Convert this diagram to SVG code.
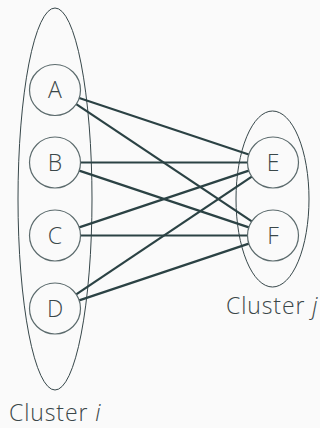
<svg xmlns="http://www.w3.org/2000/svg" width="320" height="428" viewBox="0 0 320 428">
  <style>
    .bg { fill: #fafafa; }
    .cluster { fill: none; stroke: #37474a; stroke-width: 1; }
    .node circle { fill: none; stroke: #5c6b6d; stroke-width: 1.2; }
    .node text { font-family: "Open Sans", "Noto Sans", sans-serif; font-weight: 300; font-size: 23px; fill: #3a4749; text-anchor: middle; }
    .label { font-family: "Open Sans", "Noto Sans", sans-serif; font-weight: 300; font-size: 23px; letter-spacing: 0.9px; fill: #3a4749; }
    .edges line { stroke: #2b4244; stroke-width: 2.2; stroke-linecap: butt; }
  </style>
  <rect class="bg" x="0" y="0" width="320" height="428"/>

  <!-- clusters -->
  <g id="cluster-i">
    <ellipse class="cluster" cx="55" cy="199" rx="37" ry="191"/>
    <text class="label" x="9" y="421">Cluster <tspan font-style="italic">i</tspan></text>
  </g>
  <g id="cluster-j">
    <ellipse class="cluster" cx="272.5" cy="199" rx="36.5" ry="88"/>
    <text class="label" x="226" y="314">Cluster <tspan font-style="italic">j</tspan></text>
  </g>

  <!-- connectors between members -->
  <g id="edges" class="edges">
    <line x1="79.2" y1="98.05" x2="248.8" y2="154.45"/>
    <line x1="76.21" y1="104.16" x2="251.79" y2="221.34"/>
    <line x1="80.5" y1="162.5" x2="247.5" y2="162.5"/>
    <line x1="79.18" y1="170.6" x2="248.82" y2="227.4"/>
    <line x1="79.18" y1="227.4" x2="248.82" y2="170.6"/>
    <line x1="80.5" y1="235.5" x2="247.5" y2="235.5"/>
    <line x1="76.19" y1="294.31" x2="251.81" y2="176.69"/>
    <line x1="79.18" y1="300.4" x2="248.82" y2="243.6"/>
  </g>

  <!-- nodes -->
  <g id="node-A" class="node"><circle cx="55" cy="90" r="25.5"/><text x="55" y="98">A</text></g>
  <g id="node-B" class="node"><circle cx="55" cy="162.5" r="25.5"/><text x="55" y="170.5">B</text></g>
  <g id="node-C" class="node"><circle cx="55" cy="235.5" r="25.5"/><text x="55" y="243.5">C</text></g>
  <g id="node-D" class="node"><circle cx="55" cy="308.5" r="25.5"/><text x="55" y="316.5">D</text></g>
  <g id="node-E" class="node"><circle cx="273" cy="162.5" r="25.5"/><text x="273" y="170.5">E</text></g>
  <g id="node-F" class="node"><circle cx="273" cy="235.5" r="25.5"/><text x="273" y="243.5">F</text></g>
</svg>
